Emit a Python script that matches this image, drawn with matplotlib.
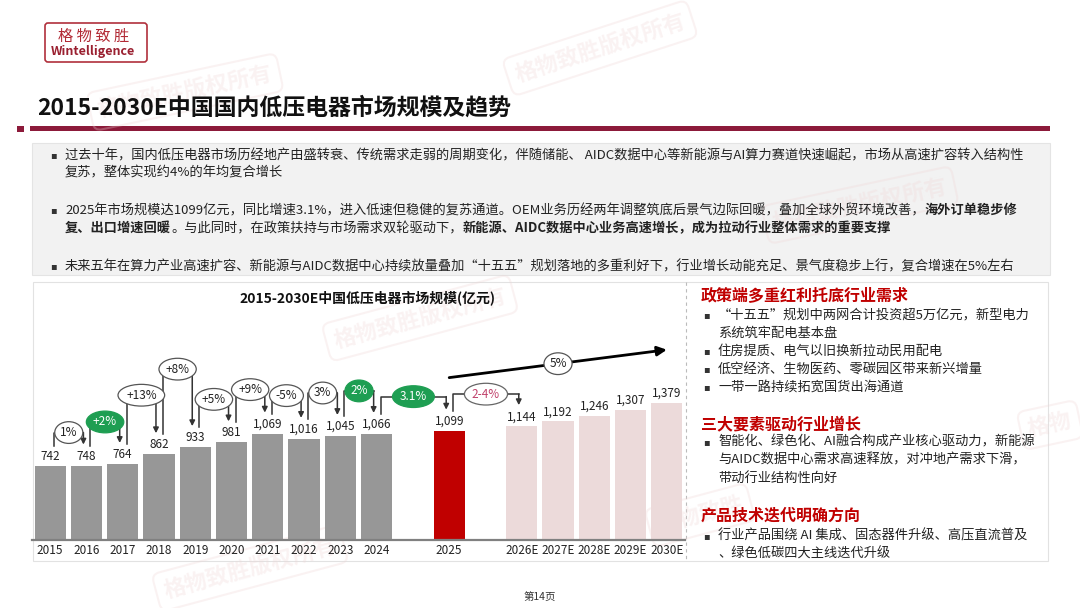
import matplotlib
matplotlib.use("Agg")
import matplotlib.pyplot as plt
from matplotlib.patches import Rectangle, FancyBboxPatch

plt.rcParams['font.family'] = ['Noto Sans CJK SC', 'DejaVu Sans']

# ---- data ----
years_hist = ['2015', '2016', '2017', '2018', '2019', '2020', '2021', '2022', '2023', '2024']
values_hist = [742, 748, 764, 862, 933, 981, 1069, 1016, 1045, 1066]
year_now = '2025'
value_now = 1099
years_fcst = ['2026E', '2027E', '2028E', '2029E', '2030E']
values_fcst = [1144, 1192, 1246, 1307, 1379]
growth_labels = ['1%', '+2%', '+13%', '+8%', '+5%', '+9%', '-5%', '3%', '2%', '3.1%', '2-4%']
growth_green = [False, True, False, False, False, False, False, False, True, True, False]
cagr_label = '5%'

chart_title = '2015-2030E中国低压电器市场规模(亿元)'
page_title = '2015-2030E中国国内低压电器市场规模及趋势'

W, H = 1080, 608
fig = plt.figure(figsize=(10.8, 6.08), dpi=100)
fig.patch.set_facecolor('white')

# page layer in pixel coordinates
bg = fig.add_axes([0, 0, 1, 1], zorder=0)
bg.set_xlim(0, W)
bg.set_ylim(H, 0)
bg.axis('off')

DARKRED = '#8c1a3a'
RED = '#c00000'

# faint watermarks
for (wx, wy, rot, txt) in [(600, 48, 18, '格物致胜版权所有'), (185, 92, 12, '格物致胜版权所有'),
                           (860, 205, 12, '格物致胜版权所有'), (420, 318, 15, '格物致胜版权所有'),
                           (250, 568, 15, '格物致胜版权所有'), (700, 515, 15, '格物致胜'),
                           (1050, 425, 12, '格物')]:
    bg.text(wx, wy, txt, rotation=rot, ha='center', va='center', fontsize=16,
            fontweight='bold', color='#efd6d6', alpha=0.3,
            bbox=dict(boxstyle='round,pad=0.35', fc='none', ec='#efd6d6', lw=1.5, alpha=0.3))

# logo
bg.add_patch(FancyBboxPatch((45, 23), 102, 39, boxstyle='round,pad=0,rounding_size=3',
                            fc='white', ec='#b0303c', lw=1.2))
bg.text(94, 36, '格 物 致 胜', ha='center', va='center', fontsize=11, color='#b22a35')
bg.text(93, 51, 'Wintelligence', ha='center', va='center', fontsize=9,
        fontweight='bold', color='#9a2030')

# title
bg.text(37, 108, page_title, ha='left', va='center', fontsize=16.5, fontweight='bold', color='#111')
bg.add_patch(Rectangle((17, 126), 7, 6, color=DARKRED, lw=0))
bg.add_patch(Rectangle((30, 126), 1020, 5, color=DARKRED, lw=0))

# summary box
bg.add_patch(Rectangle((32, 143), 1018, 132, fc='#f2f2f2', ec='#e4e4e4', lw=0.8))
FS = 9.5


def put_line(x, y, segments):
    prev = None
    for seg, bold in segments:
        w = 'bold' if bold else 'normal'
        if prev is None:
            prev = bg.text(x, y + 7, seg, ha='left', va='bottom', fontsize=FS,
                           fontweight=w, color='#222')
        else:
            prev = bg.annotate(seg, xy=(1, 0), xycoords=prev, ha='left', va='bottom',
                               fontsize=FS, fontweight=w, color='#222')


for by in [155, 210, 266]:
    bg.text(53, by, '▪', ha='center', va='center', fontsize=7, color='#333',
            family=['DejaVu Sans'])
put_line(65, 155, [('过去十年，国内低压电器市场历经地产由盛转衰、传统需求走弱的周期变化，伴随储能、 AIDC数据中心等新能源与AI算力赛道快速崛起，市场从高速扩容转入结构性', False)])
put_line(65, 173, [('复苏，整体实现约4%的年均复合增长', False)])
put_line(65, 210, [('2025年市场规模达1099亿元，同比增速3.1%，进入低速但稳健的复苏通道。OEM业务历经两年调整筑底后景气边际回暖，叠加全球外贸环境改善，', False),
                   ('海外订单稳步修', True)])
put_line(65, 228, [('复、出口增速回暖', True), ('。与此同时，在政策扶持与市场需求双轮驱动下，', False),
                   ('新能源、AIDC数据中心业务高速增长，成为拉动行业整体需求的重要支撑', True)])
put_line(65, 266, [('未来五年在算力产业高速扩容、新能源与AIDC数据中心持续放量叠加“十五五”规划落地的多重利好下，行业增长动能充足、景气度稳步上行，复合增速在5%左右', False)])

# lower panels
bg.add_patch(Rectangle((33, 282), 1015, 279, fc='white', ec='#e2e2e2', lw=0.8))
bg.plot([686, 686], [282, 561], color='#bbbbbb', lw=0.8, ls=(0, (3, 3)))
bg.text(367, 298, chart_title, ha='center', va='center', fontsize=10, fontweight='bold', color='#111')

# right panel text
right_blocks = [
    (296, '政策端多重红利托底行业需求', [
        (315, '“十五五”规划中两网合计投资超5万亿元，新型电力', True),
        (333, '系统筑牢配电基本盘', False),
        (351, '住房提质、电气以旧换新拉动民用配电', True),
        (369, '低空经济、生物医药、零碳园区带来新兴增量', True),
        (387, '一带一路持续拓宽国货出海通道', True)]),
    (424, '三大要素驱动行业增长', [
        (442, '智能化、绿色化、AI融合构成产业核心驱动力，新能源', True),
        (460, '与AIDC数据中心需求高速释放，对冲地产需求下滑，', False),
        (478, '带动行业结构性向好', False)]),
    (516, '产品技术迭代明确方向', [
        (536, '行业产品围绕 AI 集成、固态器件升级、高压直流普及', True),
        (554, '、绿色低碳四大主线迭代升级', False)]),
]
for hy, head, lines in right_blocks:
    bg.text(701, hy, head, ha='left', va='center', fontsize=11.5, fontweight='bold', color=RED)
    for ly, txt, bullet in lines:
        if bullet:
            bg.text(706, ly, '▪', ha='center', va='center', fontsize=7, color='#333',
                    family=['DejaVu Sans'])
        bg.text(718, ly, txt, ha='left', va='center', fontsize=FS, color='#222')

bg.text(540, 597, '第14页', ha='center', va='center', fontsize=7.5, color='#333')

# ---- chart ----
AX_L, AX_R, AX_B, AX_T = 32, 685, 540, 310
ax = fig.add_axes([AX_L / W, 1 - AX_B / H, (AX_R - AX_L) / W, (AX_B - AX_T) / H], zorder=2)
ax.patch.set_alpha(0)
YMAX = 2311
ax.set_xlim(-0.5, 17.5)
ax.set_ylim(0, YMAX)
py = YMAX / (AX_B - AX_T)   # data units per pixel (y)
px = 18 / (AX_R - AX_L)     # data units per pixel (x)

n_h = len(values_hist)
pos = list(range(n_h)) + [n_h + 1] + [n_h + 3 + k for k in range(len(values_fcst))]
vals = values_hist + [value_now] + values_fcst
labels = years_hist + [year_now] + years_fcst
cols = ['#979797'] * n_h + [RED] + ['#ecdada'] * len(values_fcst)

ax.bar(pos, vals, width=0.86, color=cols, zorder=2)
for p, v in zip(pos, vals):
    ax.text(p, v + 3 * py, f'{v:,}', ha='center', va='bottom', fontsize=8.5, color='#222')

ax.set_xticks(pos, labels)
ax.tick_params(axis='x', length=0, labelsize=8.5, pad=3, colors='#222')
ax.set_yticks([])
for s in ['left', 'right', 'top']:
    ax.spines[s].set_visible(False)
ax.spines['bottom'].set_color('#808080')
ax.spines['bottom'].set_linewidth(1.6)

# year-on-year brackets
lifts = [33, 42, 59, 78, 43, 44, 38, 43, 43, 34, 32]
LC = '#333333'
for i, (lab, green, lift) in enumerate(zip(growth_labels, growth_green, lifts)):
    a, b = i, i + 1
    xa = pos[a] + 4 * px
    xb = pos[b] - 3 * px
    ya = vals[a] + 20 * py
    yb = vals[b] + 21 * py
    yt = max(vals[a], vals[b]) + lift * py
    ax.plot([xa, xa, xb], [ya, yt, yt], color=LC, lw=1.1, zorder=3)
    ax.annotate('', xy=(xb, yb), xytext=(xb, yt),
                arrowprops=dict(arrowstyle='-|>', color=LC, lw=1.1, mutation_scale=8,
                                shrinkA=0, shrinkB=0), zorder=3)
    if green:
        fc, ec, tc = '#1e9e52', '#1e9e52', 'white'
    elif lab == '2-4%':
        fc, ec, tc = 'white', '#666666', '#c0406a'
    else:
        fc, ec, tc = 'white', '#555555', '#222'
    ax.text((xa + xb) / 2, yt, lab, ha='center', va='center', fontsize=8.5, color=tc, zorder=5,
            bbox=dict(boxstyle='ellipse,pad=0.1', fc=fc, ec=ec, lw=0.9))

# forecast CAGR arrow
x0, x1 = pos[n_h], pos[-1]
y0, y1 = vals[n_h] + 53 * py, vals[-1] + 53 * py
ax.annotate('', xy=(x1, y1), xytext=(x0, y0),
            arrowprops=dict(arrowstyle='-|>', color='black', lw=2, mutation_scale=14,
                            shrinkA=0, shrinkB=0), zorder=3)
ax.text((x0 + x1) / 2, (y0 + y1) / 2, cagr_label, ha='center', va='center', fontsize=8.5,
        color='#222', zorder=5, bbox=dict(boxstyle='ellipse,pad=0.1', fc='white', ec='#555', lw=0.9))

fig.savefig('out.png', dpi=100, facecolor='white')
